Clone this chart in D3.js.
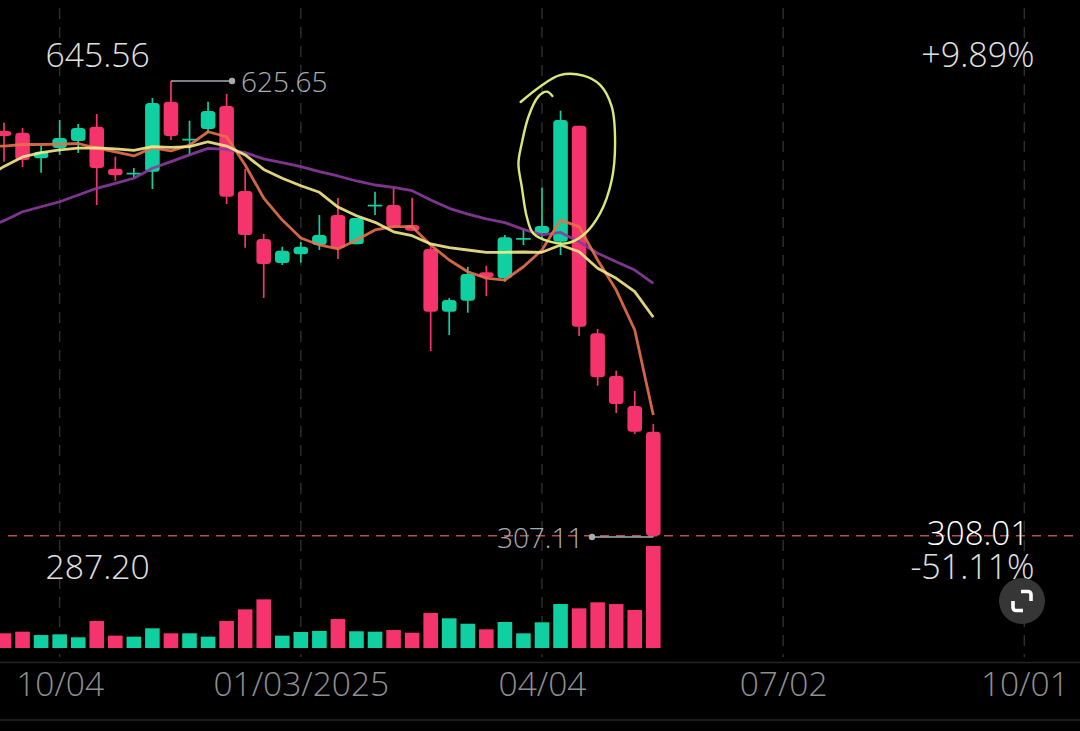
<!DOCTYPE html>
<html><head><meta charset="utf-8">
<style>html,body{margin:0;padding:0;background:#000;overflow:hidden}svg{display:block}
text{font-family:"Open Sans",sans-serif}
.domain{display:none}</style>
<script src="https://cdn.jsdelivr.net/npm/d3@7"></script></head><body><svg id="c" width="1080" height="731"></svg>
<script>
const open  =[590.7,589.5,571.7,578.8,583.7,593.7,564.4,561.0,562.3,611.2,584.8,592.1,608.2,548.8,515.3,498.5,504.6,511.1,532.0,511.6,538.7,539.0,525.1,508.3,464.5,472.2,492.0,487.8,515.4,519.3,513.4,594.4,449.4,419.6,398.6,380.7];
const high  =[596.5,592.8,580.2,598.4,595.6,602.6,572.8,564.9,613.8,625.65,597.9,611.2,616.6,564.2,518.8,509.9,513.2,532.0,543.9,529.9,548.3,550.9,544.1,509.9,474.1,495.9,496.6,518.1,522.3,551.1,604.9,594.4,452.4,423.3,409.1,386.0];
const low   =[569.3,565.6,561.6,574.0,575.4,539.0,556.0,557.9,550.2,584.4,574.0,589.3,539.7,509.2,474.1,497.1,498.7,507.6,501.3,511.6,532.0,522.9,521.1,437.0,448.2,463.8,475.4,485.4,511.1,514.6,504.1,447.5,412.8,393.7,379.0,307.11];
const close =[587.2,570.5,576.2,585.8,592.8,564.9,559.8,561.6,610.3,587.2,585.3,604.7,544.8,518.1,497.8,507.1,509.9,518.1,509.0,529.9,539.2,523.9,521.1,464.5,472.7,490.8,488.5,516.5,516.0,524.4,598.4,454.0,418.7,400.0,380.7,308.01];
const volume=[14.4,16,12.7,13.4,10.5,26.5,12.1,11.1,19.3,14.4,14.4,11.1,26.5,37.9,47.7,12.1,15.7,16.7,28.4,16.4,16,17.6,15,34.3,29.1,23.8,18.3,25.5,14.4,25.2,43.1,38.9,44.8,43.1,37.3,100];
// moving averages start one slot before the first candle (slot -1)
const maOrange=[579.9,580.2,581.3,581.3,581.6,582.0,578.8,576.2,573.3,579.0,576.9,580.9,590.2,586.7,567.0,543.9,528.5,516.0,511.1,508.3,514.6,521.6,523.9,523.9,511.1,500.6,492.4,488.0,486.6,495.9,507.6,528.5,523.9,500.6,479.6,451.7,392.3];
const maYellow=[557.9,566.0,572.6,575.6,577.5,578.8,579.0,578.3,577.2,579.8,579.3,579.8,583.2,580.2,574.0,563.9,557.7,552.5,547.9,537.6,531.5,526.9,520.3,517.6,511.8,509.2,507.6,506.0,506.0,506.2,506.0,511.1,506.4,494.8,487.8,478.5,460.6];
const maPurple=[523.0,528.1,534.3,537.8,541.3,546.0,550.7,554.2,557.7,564.7,569.3,574.0,578.6,577.9,575.6,571.2,568.6,565.8,562.3,559.3,555.8,553.0,551.4,549.0,542.5,536.7,532.7,529.3,526.7,522.0,518.1,519.9,513.4,505.3,499.4,493.6,484.3];
const scribbleSlot =[27.85,28.89,29.97,31.23,32.13,32.76,32.94,32.76,32.13,31.23,30.33,29.43,28.53,28.18,27.91,27.73,27.91,28.27,28.80,29.26,29.56];
const scribblePrice=[611.0,621.7,629.8,629.4,622.9,607.7,582.1,556.5,533.2,518.1,512.3,513.4,519.2,530.8,551.8,568.1,582.1,600.7,614.7,618.2,615.2];
const tickSlots=[3,16,29,42,55];
const tickLabels=["10/04","01/03/2025","04/04","07/02","10/01"];
const priceTop=645.56, priceBottom=287.20, hiPrice=625.65, loPrice=307.11, lastPrice=308.01;
const pctTop="+9.89%", pctBottom="-51.11%";

const RED="#f5336c", GREEN="#10cfa1";
const svg=d3.select("#c");
svg.append("rect").attr("width",1080).attr("height",731).attr("fill","#000");
const x=d3.scaleLinear().domain([0,35]).range([4,653.3]);
const y=d3.scaleLinear().domain([priceBottom,priceTop]).range([565.5,52.5]);
const v=d3.scaleLinear().domain([0,100]).range([648,546]);
const idx=d3.range(open.length);
const col=i=>close[i]>=open[i]?GREEN:RED;
const bw=14.6;

// x axis with full-height dashed grid
const axis=d3.axisBottom(x).tickValues(tickSlots).tickFormat((d,i)=>tickLabels[i]).tickSize(0).tickPadding(0);
const ag=svg.append("g").attr("transform","translate(0,672)").call(axis);
ag.selectAll("text").attr("fill","#8f8f8f").attr("font-size",33.5).attr("font-weight",300).attr("font-family",'"Open Sans",sans-serif').attr("dy","0.71em").attr("y",0);
svg.selectAll(".grid").data(tickSlots).join("line").attr("class","grid")
  .attr("x1",d=>x(d)).attr("x2",d=>x(d)).attr("y1",8).attr("y2",657)
  .attr("stroke","#2e2e2e").attr("stroke-width",1.4).attr("stroke-dasharray","11 8");
[662.5,720].forEach(p=>svg.append("line").attr("x1",0).attr("x2",1080).attr("y1",p).attr("y2",p).attr("stroke","#242424").attr("stroke-width",1.3));

// volume
svg.append("g").selectAll("rect").data(idx).join("rect")
  .attr("x",i=>x(i)-bw/2).attr("width",bw).attr("y",i=>v(volume[i])).attr("height",i=>v(0)-v(volume[i])).attr("fill",col);

// last price line
svg.append("line").attr("x1",8).attr("x2",1076).attr("y1",y(lastPrice)).attr("y2",y(lastPrice))
  .attr("stroke","#b5504e").attr("stroke-width",1.4).attr("stroke-dasharray","9 7");

// candles
const cg=svg.append("g");
cg.selectAll("line").data(idx).join("line")
  .attr("x1",i=>x(i)).attr("x2",i=>x(i)).attr("y1",i=>y(high[i])).attr("y2",i=>y(low[i]))
  .attr("stroke",col).attr("stroke-width",1.7);
cg.selectAll("rect").data(idx).join("rect")
  .attr("x",i=>x(i)-bw/2).attr("width",bw)
  .attr("y",i=>y(Math.max(open[i],close[i])))
  .attr("height",i=>Math.max(1.8,Math.abs(y(open[i])-y(close[i]))))
  .attr("rx",i=>Math.abs(y(open[i])-y(close[i]))<2?0.5:3.5).attr("fill",col);

// moving averages
const line=d3.line().x((d,i)=>x(i-1)).y(d=>y(d));
[[maPurple,"#8b3b9e"],[maOrange,"#e8704c"],[maYellow,"#f7ea8c"]].forEach(([s,c])=>{
  svg.append("path").attr("d",line(s)).attr("fill","none").attr("stroke",c).attr("stroke-width",2.8).attr("stroke-opacity",.9).attr("stroke-linejoin","round");
});

// hand-drawn ring
svg.append("path").attr("d",d3.line().x((d,i)=>x(scribbleSlot[i])).y(d=>y(d)).curve(d3.curveCatmullRom)(scribblePrice))
  .attr("fill","none").attr("stroke","#dbe878").attr("stroke-width",2.4).attr("stroke-linecap","round");

// hi / lo callouts
const callout="#a9abb3";
const hiI=high.indexOf(hiPrice), loI=low.indexOf(loPrice);
svg.append("path").attr("d",`M${x(hiI)},${y(hiPrice)}H232`).attr("stroke",callout).attr("stroke-width",1.5).attr("fill","none");
svg.append("circle").attr("cx",232).attr("cy",y(hiPrice)).attr("r",3.2).attr("fill",callout);
svg.append("path").attr("d",`M592,${y(loPrice)}H${x(loI)}`).attr("stroke",callout).attr("stroke-width",1.5).attr("fill","none");
svg.append("circle").attr("cx",592).attr("cy",y(loPrice)).attr("r",3.2).attr("fill",callout);

function label(t,px,py,size,fill,anchor,w){
  svg.append("text").text(t).attr("x",px).attr("y",py).attr("font-size",size).attr("fill",fill)
   .attr("text-anchor",anchor||"start").attr("font-weight",w||300).attr("dominant-baseline","central");
}
label(priceTop.toFixed(2),45.5,54,33.7,"#e0e0e0");
label(priceBottom.toFixed(2),45.5,566,33.7,"#e0e0e0");
label(pctTop,1034.5,54,34,"#e0e0e0","end");
label(pctBottom,1034.5,566,34,"#e0e0e0","end");
label(lastPrice.toFixed(2),1029,532.5,33,"#ffffff","end");
label(hiPrice.toFixed(2),241,81,28,callout);
label(loPrice.toFixed(2),583.5,536.5,28,callout,"end");

// expand button
const b=svg.append("g").attr("transform","translate(1022,601)");
b.append("circle").attr("r",23).attr("fill","#363636");
b.append("path").attr("d","M-1,-9.5H6a3,3 0 0 1 3,3V0M1,9.5H-6a3,3 0 0 1 -3,-3V0").attr("fill","none").attr("stroke","#fff").attr("stroke-width",3.6);
</script></body></html>
